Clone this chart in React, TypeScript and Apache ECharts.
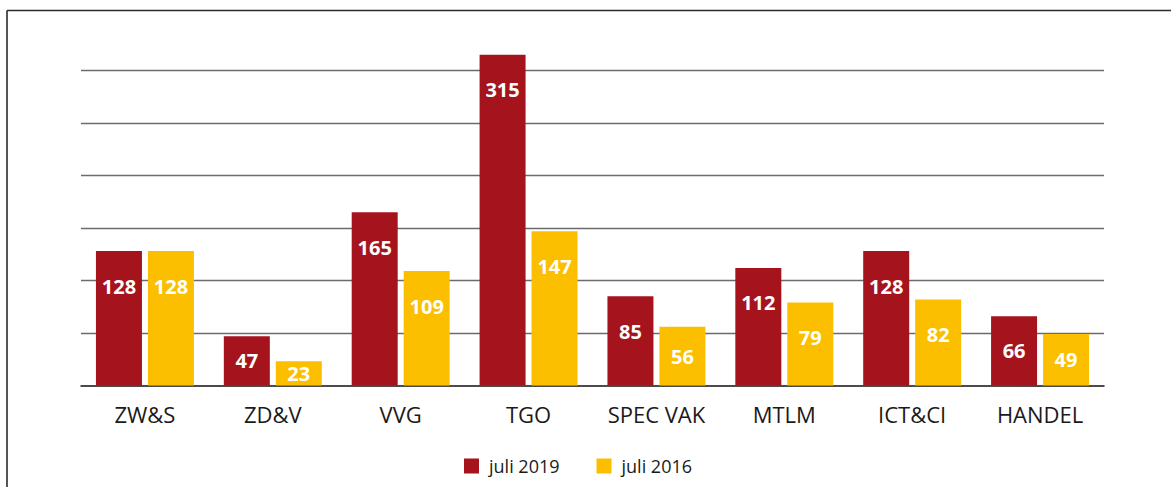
import React, { useEffect, useRef } from "react";
import * as echarts from "echarts";

const categories = ["ZW&S", "ZD&V", "VVG", "TGO", "SPEC VAK", "MTLM", "ICT&CI", "HANDEL"];
const values2019 = [128, 47, 165, 315, 85, 112, 128, 66];
const values2016 = [128, 23, 109, 147, 56, 79, 82, 49];
const seriesNames = ["juli 2019", "juli 2016"];

const RED = "#a5141d";
const YELLOW = "#fcbf00";
const FONT = "'Open Sans', sans-serif";

const toItems = (vals: number[]) =>
  vals.map((v) => ({
    value: v,
    label: v >= 68 ? { position: "insideTop", distance: 25 } : { position: "inside" },
  }));

export default function App() {
  const ref = useRef<HTMLDivElement>(null);
  useEffect(() => {
    document.body.style.margin = "0";
    const chart = echarts.init(ref.current!, null, { renderer: "svg" });
    const label = {
      show: true,
      color: "#ffffff",
      fontFamily: FONT,
      fontWeight: "bold" as const,
      fontSize: 20,
    };
    chart.setOption({
      animation: false,
      backgroundColor: "#ffffff",
      grid: { left: 81, right: 67, top: 39, bottom: 101.5, outerBoundsMode: "none" },
      legend: {
        data: seriesNames,
        left: 464,
        top: 457,
        padding: 0,
        icon: "rect",
        itemWidth: 15,
        itemHeight: 15,
        itemGap: 37,
        textStyle: { fontFamily: FONT, fontSize: 18, color: "#1a1a1a", padding: [0, 0, 0, 5] },
      },
      xAxis: {
        type: "category",
        data: categories,
        axisLine: { lineStyle: { color: "#111111", width: 1.5 } },
        axisTick: { show: false },
        axisLabel: { interval: 0, fontFamily: FONT, fontSize: 22, color: "#1a1a1a", margin: 17 },
      },
      yAxis: {
        type: "value",
        min: 0,
        max: 330,
        interval: 50,
        axisLabel: { show: false },
        axisLine: { show: false },
        axisTick: { show: false },
        splitLine: {
          showMaxLine: false,
          showMinLine: false,
          lineStyle: { color: "#6b6b6b", width: 1.3 },
        },
      },
      series: [
        {
          name: seriesNames[0],
          type: "bar",
          data: toItems(values2019),
          barWidth: 46,
          barGap: "13%",
          itemStyle: { color: RED },
          label,
        },
        {
          name: seriesNames[1],
          type: "bar",
          data: toItems(values2016),
          barWidth: 46,
          barGap: "13%",
          itemStyle: { color: YELLOW },
          label,
        },
      ],
      graphic: [
        {
          type: "line",
          shape: { x1: 7, y1: 10.5, x2: 1171, y2: 10.5 },
          style: { stroke: "#2b2b2b", lineWidth: 1.6 },
        },
        {
          type: "line",
          shape: { x1: 7, y1: 10.5, x2: 7, y2: 487 },
          style: { stroke: "#2b2b2b", lineWidth: 1.6 },
        },
      ],
    });
    return () => chart.dispose();
  }, []);
  return <div ref={ref} style={{ width: 1171, height: 487 }} />;
}
